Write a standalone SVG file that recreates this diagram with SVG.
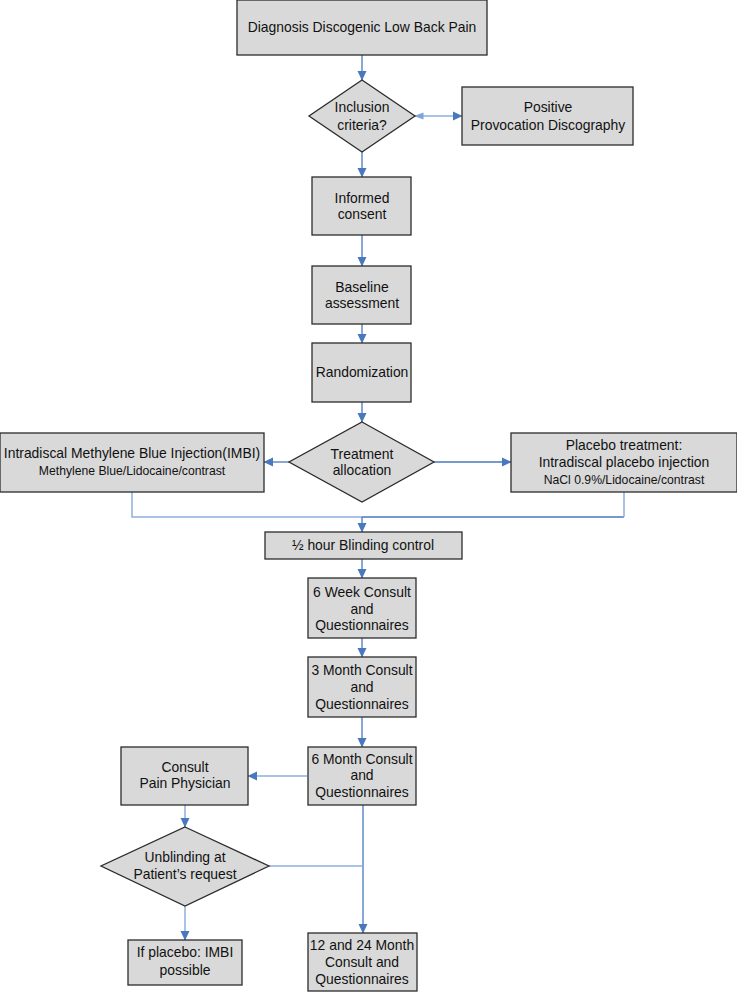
<svg xmlns="http://www.w3.org/2000/svg" width="737" height="992" viewBox="0 0 737 992">
<defs>
<marker id="ah" markerWidth="10" markerHeight="10" refX="9" refY="5" orient="auto" markerUnits="userSpaceOnUse">
<path d="M0,0.5 L9.5,5 L0,9.5 Z" fill="#4a78bd"/>
</marker>
<marker id="ahs" markerWidth="10" markerHeight="10" refX="1" refY="5" orient="auto" markerUnits="userSpaceOnUse">
<path d="M9.5,1.5 L0,5 L9.5,8.5 Z" fill="#7fa3d6"/>
</marker>
</defs>
<style>
.box{fill:#d9d9d9;stroke:#2b2b2b;stroke-width:1.3}
text{font-family:"Liberation Sans",Arial,sans-serif;font-size:13.9px;fill:#111;text-anchor:middle}
.sm{font-size:12.2px}
.c{fill:none;stroke:#4a78bd;stroke-width:1.3}
.cl{fill:none;stroke:#8eaedb;stroke-width:1.5}
</style>
<rect width="737" height="992" fill="#fff"/>
<g id="connectors">
<line class="c" x1="362" y1="55" x2="362" y2="80" marker-end="url(#ah)"/>
<line class="cl" x1="415" y1="116" x2="462" y2="116" marker-start="url(#ahs)" marker-end="url(#ah)"/>
<line class="c" x1="362" y1="152" x2="362" y2="177" marker-end="url(#ah)"/>
<line class="c" x1="362" y1="235" x2="362" y2="266" marker-end="url(#ah)"/>
<line class="c" x1="362" y1="324" x2="362" y2="343" marker-end="url(#ah)"/>
<line class="c" x1="362" y1="402" x2="362" y2="422" marker-end="url(#ah)"/>
<line class="c" x1="289" y1="462" x2="264" y2="462" marker-end="url(#ah)"/>
<line class="c" x1="434" y1="462" x2="511" y2="462" marker-end="url(#ah)"/>
<polyline class="cl" points="132,492 132,517 362,517"/>
<polyline class="c" points="362,517 624,517"/>
<line class="cl" x1="624" y1="517" x2="624" y2="492"/>
<line class="c" x1="362" y1="517" x2="362" y2="532" marker-end="url(#ah)"/>
<line class="c" x1="362" y1="559" x2="362" y2="578" marker-end="url(#ah)"/>
<line class="c" x1="362" y1="638" x2="362" y2="657" marker-end="url(#ah)"/>
<line class="c" x1="362" y1="717" x2="362" y2="747" marker-end="url(#ah)"/>
<line class="cl" x1="307" y1="776" x2="248" y2="776" marker-end="url(#ah)"/>
<line class="c" x1="363" y1="805" x2="363" y2="933" marker-end="url(#ah)"/>
<line class="cl" x1="269" y1="866" x2="363" y2="866"/>
<line class="cl" x1="185" y1="805" x2="185" y2="827" marker-end="url(#ah)"/>
<line class="cl" x1="185" y1="906" x2="185" y2="940" marker-end="url(#ah)"/>
</g>
<g id="n-diagnosis">
<rect class="box" x="237" y="0" width="250" height="55"/>
<text x="362" y="32">Diagnosis Discogenic Low Back Pain</text>
</g>
<g id="n-inclusion">
<polygon class="box" points="362,80 415,116 362,152 309,116"/>
<text x="362" y="112">Inclusion</text>
<text x="362" y="130">criteria?</text>
</g>
<g id="n-positive">
<rect class="box" x="462" y="87" width="171" height="58"/>
<text x="548" y="112">Positive</text>
<text x="548" y="130">Provocation Discography</text>
</g>
<g id="n-consent">
<rect class="box" x="312" y="177" width="99" height="58"/>
<text x="362" y="203">Informed</text>
<text x="362" y="219">consent</text>
</g>
<g id="n-baseline">
<rect class="box" x="312" y="266" width="99" height="58"/>
<text x="362" y="292">Baseline</text>
<text x="362" y="308">assessment</text>
</g>
<g id="n-random">
<rect class="box" x="312" y="343" width="99" height="59"/>
<text x="362" y="377">Randomization</text>
</g>
<g id="n-allocation">
<polygon class="box" points="362,422 434,462 362,502 289,462"/>
<text x="362" y="459">Treatment</text>
<text x="362" y="475">allocation</text>
</g>
<g id="n-imbi">
<rect class="box" x="0" y="433" width="264" height="59"/>
<text x="132" y="458">Intradiscal Methylene Blue Injection(IMBI)</text>
<text class="sm" x="132" y="475">Methylene Blue/Lidocaine/contrast</text>
</g>
<g id="n-placebo">
<rect class="box" x="511" y="433" width="226" height="59"/>
<text x="624" y="450">Placebo treatment:</text>
<text x="624" y="467">Intradiscal placebo injection</text>
<text class="sm" x="624" y="484">NaCl 0.9%/Lidocaine/contrast</text>
</g>
<g id="n-blinding">
<rect class="box" x="265" y="532" width="197" height="27"/>
<text x="363" y="550">½ hour Blinding control</text>
</g>
<g id="n-6week">
<rect class="box" x="308" y="578" width="108" height="60"/>
<text x="362" y="597">6 Week Consult</text>
<text x="362" y="614">and</text>
<text x="362" y="630">Questionnaires</text>
</g>
<g id="n-3month">
<rect class="box" x="308" y="657" width="108" height="60"/>
<text x="362" y="675">3 Month Consult</text>
<text x="362" y="692">and</text>
<text x="362" y="709">Questionnaires</text>
</g>
<g id="n-6month">
<rect class="box" x="308" y="747" width="108" height="58"/>
<text x="362" y="764">6 Month Consult</text>
<text x="362" y="780">and</text>
<text x="362" y="797">Questionnaires</text>
</g>
<g id="n-painphys">
<rect class="box" x="121" y="747" width="127" height="58"/>
<text x="185" y="772">Consult</text>
<text x="185" y="788">Pain Physician</text>
</g>
<g id="n-unblinding">
<polygon class="box" points="185,827 269,866 185,906 101,866"/>
<text x="185" y="862">Unblinding at</text>
<text x="185" y="879">Patient’s request</text>
</g>
<g id="n-ifplacebo">
<rect class="box" x="128" y="940" width="114" height="45"/>
<text x="185" y="957">If placebo: IMBI</text>
<text x="185" y="975">possible</text>
</g>
<g id="n-12month">
<rect class="box" x="308" y="933" width="109" height="58"/>
<text x="362" y="950">12 and 24 Month</text>
<text x="362" y="967">Consult and</text>
<text x="362" y="984">Questionnaires</text>
</g>
</svg>
